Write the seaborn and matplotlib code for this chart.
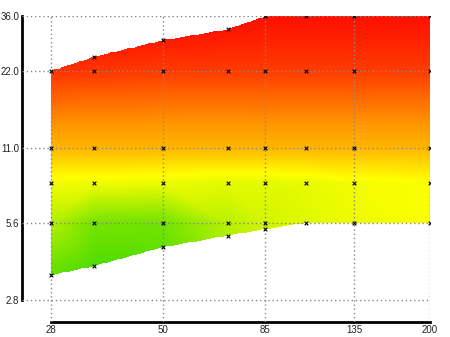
import numpy as np
import pandas as pd
import matplotlib
matplotlib.use("Agg")
import matplotlib.pyplot as plt
import matplotlib.tri as mtri
from matplotlib.colors import LinearSegmentedColormap
from matplotlib.path import Path
import seaborn as sns

# Measurement grid: focal length (x), aperture (y) and a score per node
focal = [28, 28, 28, 28, 28,
         35, 35, 35, 35, 35, 35,
         50, 50, 50, 50, 50, 50,
         70, 70, 70, 70, 70, 70,
         85, 85, 85, 85, 85, 85,
         105, 105, 105, 105, 105,
         135, 135, 135, 135, 135,
         200, 200, 200, 200, 200]
aperture = [3.5, 5.6, 8, 11, 22,
            3.8, 5.6, 8, 11, 22, 25,
            4.5, 5.6, 8, 11, 22, 29,
            5.0, 5.6, 8, 11, 22, 32,
            5.3, 5.6, 8, 11, 22, 36,
            5.6, 8, 11, 22, 36,
            5.6, 8, 11, 22, 36,
            5.6, 8, 11, 22, 36]
score = [0.10, 0.30, 0.47, 0.68, 0.94,
         0.05, 0.15, 0.46, 0.68, 0.93, 0.96,
         0.10, 0.14, 0.45, 0.68, 0.92, 0.98,
         0.30, 0.32, 0.43, 0.68, 0.92, 0.99,
         0.38, 0.38, 0.43, 0.68, 0.92, 1.00,
         0.42, 0.44, 0.68, 0.92, 1.00,
         0.46, 0.47, 0.68, 0.92, 1.00,
         0.49, 0.49, 0.68, 0.92, 1.00]

# Outline of the covered region (upper edge, then lower edge back)
upper_x = [28, 35, 50, 70, 85, 105, 135, 200]
upper_y = [22, 25, 29, 32, 36, 36, 36, 36]
lower_x = [200, 135, 105, 85, 70, 50, 35, 28]
lower_y = [5.6, 5.6, 5.6, 5.3, 5.0, 4.5, 3.8, 3.5]

x_ticks = [28, 50, 85, 135, 200]
x_labels = ["28", "50", "85", "135", "200"]
y_ticks = [2.8, 5.6, 11.0, 22.0, 36.0]
y_labels = ["2.8", "5.6", "11.0", "22.0", "36.0"]

df = pd.DataFrame({"focal": focal, "aperture": aperture, "score": score})

sns.set_style("white")
plt.rcParams["font.family"] = ["Liberation Sans", "DejaVu Sans"]

fig = plt.figure(figsize=(4.5, 3.37), dpi=100)
ax = fig.add_axes([22 / 450, (337 - 322) / 337, (430 - 22) / 450, (322 - 16) / 337])

cmap = LinearSegmentedColormap.from_list(
    "gyr", [(0.0, "#3cd800"), (0.5, "#ffff00"), (0.75, "#ff9900"), (1.0, "#ff1000")])

# Linear interpolation of the score in log-log space
lx = np.log(df["focal"].to_numpy(float))
ly = np.log(df["aperture"].to_numpy(float))
tri = mtri.Triangulation(lx, ly)
outline = Path(np.column_stack([
    np.log(np.array(upper_x + lower_x, float)),
    np.log(np.array(upper_y + lower_y, float))]))
cx = lx[tri.triangles].mean(axis=1)
cy = ly[tri.triangles].mean(axis=1)
tri.set_mask(~outline.contains_points(np.column_stack([cx, cy])))
interp = mtri.LinearTriInterpolator(tri, df["score"].to_numpy(float))

gx = np.linspace(lx.min(), lx.max(), 420)
gy = np.linspace(ly.min(), ly.max(), 320)
GX, GY = np.meshgrid(gx, gy)
Z = interp(GX, GY)
pts = np.column_stack([GX.ravel(), GY.ravel()])
outside = ~outline.contains_points(pts, radius=1e-6).reshape(GX.shape) & \
          ~outline.contains_points(pts, radius=-1e-6).reshape(GX.shape)
Z = np.ma.masked_where(outside | np.ma.getmaskarray(Z), Z)

ax.pcolormesh(np.exp(GX), np.exp(GY), Z, shading="nearest", cmap=cmap,
              vmin=0, vmax=1, zorder=1, antialiased=False, linewidth=0)

sns.scatterplot(data=df, x="focal", y="aperture", marker="x", color="black",
                s=7, linewidth=0.8, ax=ax, zorder=3, legend=False)

ax.set_xscale("log")
ax.set_yscale("log")
ax.set_xlim(24.08, 200.3)
ax.set_ylim(2.297, 36.1)
ax.set_xticks(x_ticks)
ax.set_xticklabels(x_labels)
ax.set_yticks(y_ticks)
ax.set_yticklabels(y_labels)
ax.minorticks_off()
ax.set_xlabel("")
ax.set_ylabel("")

ax.grid(True, color="#888888", linestyle=(0, (1, 2)), linewidth=1, zorder=2)
ax.set_axisbelow(False)
for side in ["top", "right"]:
    ax.spines[side].set_visible(False)
for side in ["left", "bottom"]:
    ax.spines[side].set_color("black")
    ax.spines[side].set_linewidth(2)
ax.spines["left"].set_bounds(2.8, 36)
ax.spines["bottom"].set_bounds(28, 200)
ax.tick_params(axis="both", direction="in", length=3, width=1, labelsize=7,
               labelcolor="#222222", pad=2)

fig.savefig("out.png", dpi=100)
